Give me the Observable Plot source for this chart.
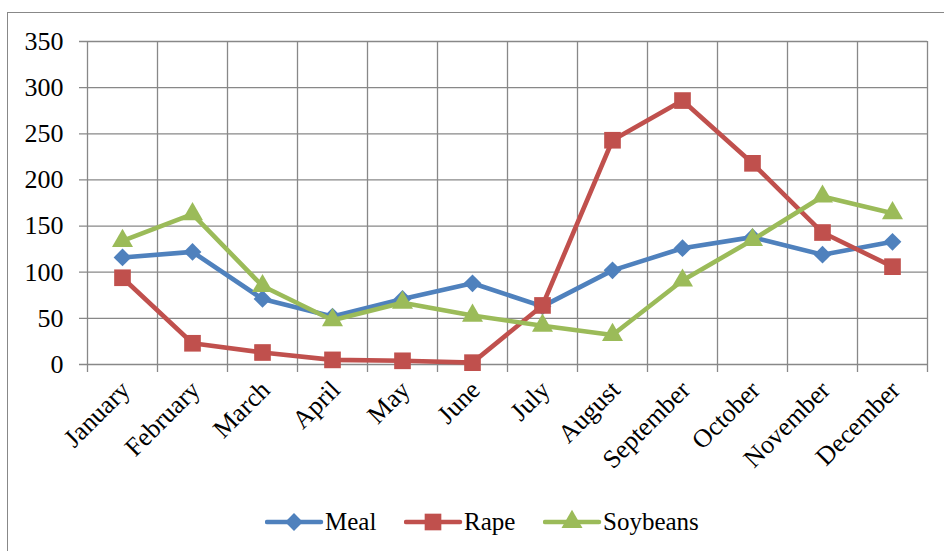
<!DOCTYPE html>
<html>
<head>
<meta charset="utf-8">
<script src="https://cdn.jsdelivr.net/npm/d3@7"></script>
<script src="https://cdn.jsdelivr.net/npm/@observablehq/plot@0.6"></script>
<style>
  html, body { margin: 0; padding: 0; background: #fff; }
  #wrap { position: relative; width: 944px; height: 551px; overflow: hidden; font-family: "Liberation Serif", "Times New Roman", serif; }
  #border { position: absolute; left: 7px; top: 12px; width: 960px; height: 560px; border: 1.3px solid #888; box-sizing: border-box; }
  #chart { position: absolute; left: 0; top: 0; }
  #chart svg, #chart svg text { font-family: "Liberation Serif", serif !important; font-variant: normal !important; }
  #legend { position: absolute; left: 0; top: 506px; width: 944px; height: 32px; }
  .item { position: absolute; top: 0; height: 32px; display: flex; align-items: center; font-size: 25px; color: #000; }
  .item svg { display: block; }
</style>
</head>
<body>
<div id="wrap">
  <div id="border"></div>
  <div id="chart"></div>
  <div id="legend"></div>
</div>
<script>
const months = ["January","February","March","April","May","June","July","August","September","October","November","December"];
const meal     = [116, 122, 71, 52, 71, 88, 63, 102, 126, 138, 119, 133];
const rape     = [94, 23, 13, 5, 4, 2, 64, 243, 286, 218, 143, 106];
const soybeans = [134, 163, 85, 48, 67, 53, 42, 32, 91, 135, 182, 164];
const yTicks = [0, 50, 100, 150, 200, 250, 300, 350];
const seriesNames = ["Meal", "Rape", "Soybeans"];
const seriesColors = ["#4F81BD", "#C0504D", "#9BBB59"];
const seriesSymbols = ["diamond2", "square", "triangle"];
const seriesR = [8, 9.4, 7.8];

const seriesValues = [meal, rape, soybeans];
const boundaries = d3.range(-0.5, months.length, 1);

const marks = [
  Plot.ruleY(yTicks, {stroke: "#888", strokeWidth: 1.3, insetLeft: -8}),
  Plot.ruleX(boundaries, {stroke: "#888", strokeWidth: 1.3, insetBottom: -8}),
  Plot.text(yTicks, {y: d => d, text: d => String(d), frameAnchor: "left", textAnchor: "end", dx: -24, fontSize: 26, fill: "#000", fontFamily: "Liberation Serif"}),
  Plot.text(months, {x: (d, i) => i, text: d => d, frameAnchor: "bottom", rotate: -45, textAnchor: "end", dx: 9, dy: 27, fontSize: 26, fill: "#000", fontFamily: "Liberation Serif"})
];
seriesValues.forEach((vals, s) => {
  const rows = vals.map((v, i) => ({i, v}));
  marks.push(Plot.line(rows, {x: "i", y: "v", stroke: seriesColors[s], strokeWidth: 4.6, strokeLinejoin: "round"}));
  marks.push(Plot.dot(rows, {x: "i", y: "v", symbol: () => seriesSymbols[s], r: seriesR[s], fill: seriesColors[s], stroke: "none"}));
});

const chart = Plot.plot({
  width: 944,
  height: 490,
  marginLeft: 87,
  marginRight: 17,
  marginTop: 41,
  marginBottom: 126,
  x: {type: "linear", domain: [-0.5, 11.5], axis: null},
  y: {domain: [0, 350], axis: null},
  symbol: {type: "identity"},
  style: {background: "transparent", fontFamily: "Liberation Serif"},
  marks
});
document.getElementById("chart").appendChild(chart);

// Legend
const legendPos = [265, 404, 543];
const legend = document.getElementById("legend");
seriesNames.forEach((name, s) => {
  const item = document.createElement("div");
  item.className = "item";
  item.style.left = legendPos[s] + "px";
  const sw = d3.create("svg").attr("width", 60).attr("height", 32);
  sw.append("line").attr("x1", 2).attr("x2", 56).attr("y1", 16).attr("y2", 16)
    .attr("stroke", seriesColors[s]).attr("stroke-width", 4.5).attr("stroke-linecap", "round");
  const symMap = {diamond2: d3.symbolDiamond2, square: d3.symbolSquare, triangle: d3.symbolTriangle};
  sw.append("path").attr("transform", "translate(29,16)")
    .attr("d", d3.symbol(symMap[seriesSymbols[s]], Math.PI * seriesR[s] * seriesR[s])())
    .attr("fill", seriesColors[s]);
  item.appendChild(sw.node());
  const t = document.createElement("span");
  t.textContent = name;
  item.appendChild(t);
  legend.appendChild(item);
});
</script>
</body>
</html>
